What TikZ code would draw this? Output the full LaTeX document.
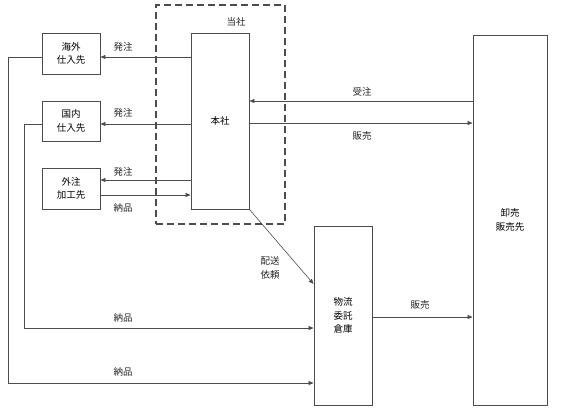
\documentclass[tikz,border=0pt]{standalone}
\usepackage{fontspec}
\setmainfont{Noto Sans CJK JP}
\usetikzlibrary{arrows.meta}
\begin{document}
\begin{tikzpicture}[x=1pt,y=-1pt,
  every node/.style={font=\fontsize{9.5}{13.5}\selectfont, inner sep=0pt},
  box/.style={draw=black!70, line width=0.9pt, fill=white, align=center},
  arr/.style={draw=black!70, line width=0.7pt, -{Triangle[length=5pt,width=4pt]}},
  lbl/.style={text=black!85}]
\useasboundingbox (0,0) rectangle (567,418);
% dashed company boundary
\node[draw=black!70, line width=1.1pt, dash pattern=on 7pt off 4pt, minimum width=129pt, minimum height=219pt] (tosha) at (220.5,114.5) {};
\node[lbl] (toshalbl) at (236,22) {当社};
% boxes
\node[box, minimum width=58pt, minimum height=41pt] (kaigai) at (71,53.5) {海外\\仕入先};
\node[box, minimum width=58pt, minimum height=40pt] (kokunai) at (71,121) {国内\\仕入先};
\node[box, minimum width=58pt, minimum height=41pt] (gaichu) at (71,188.5) {外注\\加工先};
\node[box, minimum width=58pt, minimum height=176pt] (honsha) at (220,121) {本社};
\node[box, minimum width=74pt, minimum height=370pt] (oroshi) at (510,220) {卸売\\販売先};
\node[box, minimum width=58pt, minimum height=179pt] (butsu) at (343,315.5) {物流\\委託\\倉庫};
% arrows from honsha
\draw[arr] (honsha.west |- 0,57) -- (kaigai.east |- 0,57);
\node[lbl] (l1) at (123,47) {発注};
\draw[arr] (honsha.west |- 0,124) -- (kokunai.east |- 0,124);
\node[lbl] (l2) at (123,113) {発注};
\draw[arr] (honsha.west |- 0,180) -- (gaichu.east |- 0,180);
\node[lbl] (l3) at (123,172) {発注};
\draw[arr] (gaichu.east |- 0,195) -- (honsha.west |- 0,195);
\node[lbl] (l4) at (123,208) {納品};
% honsha <-> oroshi
\draw[arr] (oroshi.west |- 0,101) -- (honsha.east |- 0,101);
\node[lbl] (l5) at (362,92) {受注};
\draw[arr] (honsha.east |- 0,123) -- (oroshi.west |- 0,123);
\node[lbl] (l6) at (362,136) {販売};
% delivery request
\draw[draw=black!70, line width=0.6pt, -{Triangle[length=5pt,width=4pt]}] (honsha.south east) -- (butsu.west |- 0,284);
\node[lbl, align=center] (l7) at (270,268) {配送\\依頼};
% supplier deliveries to warehouse
\draw[arr] (kokunai.west |- 0,124) -- (24,124) -- (24,328) -- (butsu.west |- 0,328);
\node[lbl] (l8) at (123,318) {納品};
\draw[arr] (kaigai.west |- 0,57) -- (8,57) -- (8,383) -- (butsu.west |- 0,383);
\node[lbl] (l9) at (123,372) {納品};
% warehouse -> oroshi
\draw[arr] (butsu.east |- 0,317) -- (oroshi.west |- 0,317);
\node[lbl] (l10) at (420,305) {販売};
\end{tikzpicture}
\end{document}
